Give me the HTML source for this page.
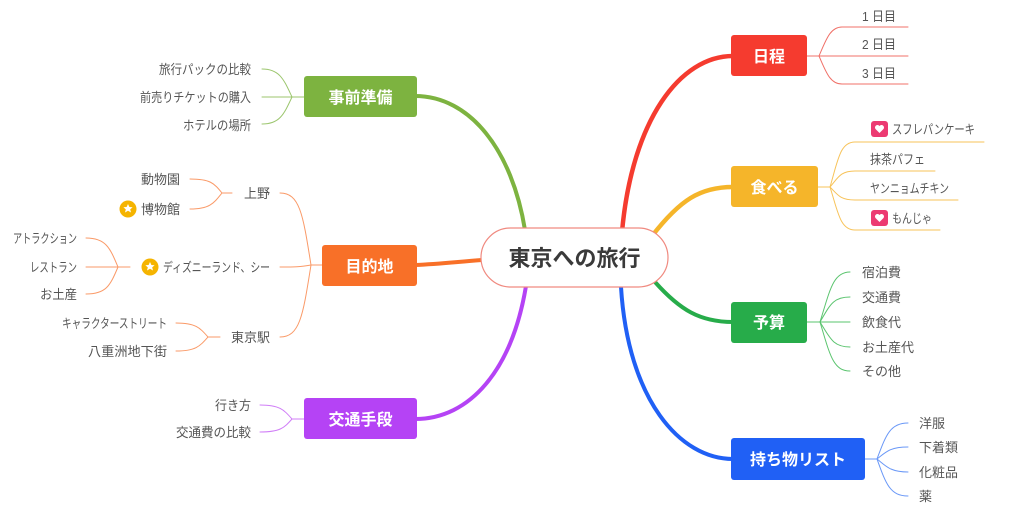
<!DOCTYPE html>
<html><head><meta charset="utf-8"><style>
html,body{margin:0;padding:0;background:#fff;}
svg{display:block;}
text{font-family:"Liberation Sans","Noto Sans CJK JP",sans-serif;}
.l{font-size:13px;fill:#555;}
.b{font-size:16px;font-weight:bold;fill:#fff;}
</style></head><body>
<svg width="1024" height="517" viewBox="0 0 1024 517" xmlns="http://www.w3.org/2000/svg">
<g fill="none" stroke-linecap="round">
<path d="M622,232 C632,120 680,56 733,56" stroke="#f53b2f" stroke-width="4.5"/>
<path d="M652,236 C680,200 700,187 733,187" stroke="#f5b52a" stroke-width="4.5"/>
<path d="M655,282 C680,310 700,322 733,322" stroke="#27ac4a" stroke-width="4"/>
<path d="M621,287 C628,400 680,459 733,459" stroke="#2060f5" stroke-width="4"/>
<path d="M525,230 C512,150 470,96 415,96" stroke="#7db340" stroke-width="4"/>
<path d="M482,260 C455,262 440,264 415,265" stroke="#f87028" stroke-width="4"/>
<path d="M526,286 C512,370 470,419 415,419" stroke="#b543f5" stroke-width="4"/>

<g stroke="#f07068" stroke-width="1">
<path d="M807,56 H819"/>
<path d="M819,56 C826,40 830,27 842,27 H908"/>
<path d="M819,56 H908"/>
<path d="M819,56 C826,72 830,84 842,84 H908"/>
</g>
<g stroke="#f7c35a" stroke-width="1">
<path d="M818,187 H830"/>
<path d="M830,187 C838,160 840,142 855,142 H984"/>
<path d="M830,187 C838,178 840,171 855,171 H935"/>
<path d="M830,187 C838,195 840,200 855,200 H958"/>
<path d="M830,187 C838,212 840,230 855,230 H940"/>
</g>
<g stroke="#5ac46e" stroke-width="1">
<path d="M807,322 H820"/>
<path d="M820,322 C830,290 833,272 850,272"/>
<path d="M820,322 C830,305 833,297 850,297"/>
<path d="M820,322 H850"/>
<path d="M820,322 C830,338 833,347 850,347"/>
<path d="M820,322 C830,355 833,371 850,371"/>
</g>
<g stroke="#6a98f7" stroke-width="1">
<path d="M865,459 H877"/>
<path d="M877,459 C886,435 890,423 908,423"/>
<path d="M877,459 C886,452 890,447 908,447"/>
<path d="M877,459 C886,466 890,472 908,472"/>
<path d="M877,459 C886,484 890,496 908,496"/>
</g>
<g stroke="#9cc66e" stroke-width="1">
<path d="M304,97 H292"/>
<path d="M292,97 C284,80 280,69 262,69"/>
<path d="M292,97 H262"/>
<path d="M292,97 C284,114 280,124 262,124"/>
</g>
<g stroke="#fa9a68" stroke-width="1">
<path d="M322,265 H311"/>
<path d="M311,265 C303,215 300,193 280,193"/>
<path d="M311,265 C300,267 295,267 280,267"/>
<path d="M311,265 C303,315 300,337 280,337"/>
<path d="M232,193 H222"/>
<path d="M222,193 C214,183 210,179 190,179"/>
<path d="M222,193 C214,203 210,209 190,209"/>
<path d="M130,267 H118"/>
<path d="M118,267 C110,248 106,238 86,238"/>
<path d="M118,267 H86"/>
<path d="M118,267 C110,286 106,294 86,294"/>
<path d="M220,337 H208"/>
<path d="M208,337 C200,328 196,323 176,323"/>
<path d="M208,337 C200,346 196,351 176,351"/>
</g>
<g stroke="#d07ef7" stroke-width="1">
<path d="M304,419 H292"/>
<path d="M292,419 C284,410 280,405 260,405"/>
<path d="M292,419 C284,428 280,432 260,432"/>
</g>
</g>

<rect x="481" y="228" width="187" height="59" rx="29.5" fill="#fff" stroke="#f08a80" stroke-width="1.2"/>
<text x="574.5" y="266" font-size="22" font-weight="bold" fill="#3a3a3a" text-anchor="middle">東京への旅行</text>

<rect x="731" y="35" width="76" height="41" rx="3" fill="#f53b2f"/>
<text class="b" x="769" y="62" text-anchor="middle">日程</text>
<rect x="731" y="166" width="87" height="41" rx="3" fill="#f5b52a"/>
<text class="b" x="774.5" y="193" text-anchor="middle">食べる</text>
<rect x="731" y="302" width="76" height="41" rx="3" fill="#27ac4a"/>
<text class="b" x="769" y="328" text-anchor="middle">予算</text>
<rect x="731" y="438" width="134" height="42" rx="3" fill="#2060f5"/>
<text class="b" x="798" y="465" text-anchor="middle">持ち物リスト</text>
<rect x="304" y="76" width="113" height="41" rx="3" fill="#7db340"/>
<text class="b" x="360.5" y="103" text-anchor="middle">事前準備</text>
<rect x="322" y="245" width="95" height="41" rx="3" fill="#f87028"/>
<text class="b" x="369.5" y="272" text-anchor="middle">目的地</text>
<rect x="304" y="398" width="113" height="41" rx="3" fill="#b543f5"/>
<text class="b" x="360.5" y="425" text-anchor="middle">交通手段</text>

<text class="l" x="862" y="21" textLength="34" lengthAdjust="spacingAndGlyphs">1 日目</text>
<text class="l" x="862" y="49" textLength="34" lengthAdjust="spacingAndGlyphs">2 日目</text>
<text class="l" x="862" y="78" textLength="34" lengthAdjust="spacingAndGlyphs">3 日目</text>

<rect x="871" y="121" width="17" height="16" rx="3" fill="#ec3a72"/>
<path d="M879.5,133 l-4,-4 a2.2,2.2 0 0 1 4,-3 a2.2,2.2 0 0 1 4,3 z" fill="#fff"/>
<text class="l" x="892" y="134" textLength="83" lengthAdjust="spacingAndGlyphs">スフレパンケーキ</text>
<text class="l" x="870" y="164" textLength="55" lengthAdjust="spacingAndGlyphs">抹茶パフェ</text>
<text class="l" x="870" y="193" textLength="79" lengthAdjust="spacingAndGlyphs">ヤンニョムチキン</text>
<rect x="871" y="210" width="17" height="16" rx="3" fill="#ec3a72"/>
<path d="M879.5,222 l-4,-4 a2.2,2.2 0 0 1 4,-3 a2.2,2.2 0 0 1 4,3 z" fill="#fff"/>
<text class="l" x="892" y="223" textLength="40" lengthAdjust="spacingAndGlyphs">もんじゃ</text>

<text class="l" x="862" y="277">宿泊費</text>
<text class="l" x="862" y="302">交通費</text>
<text class="l" x="862" y="327">飲食代</text>
<text class="l" x="862" y="352">お土産代</text>
<text class="l" x="862" y="376">その他</text>

<text class="l" x="919" y="428">洋服</text>
<text class="l" x="919" y="452">下着類</text>
<text class="l" x="919" y="477">化粧品</text>
<text class="l" x="919" y="501">薬</text>

<text class="l" x="159" y="74" textLength="92" lengthAdjust="spacingAndGlyphs">旅行パックの比較</text>
<text class="l" x="140" y="102" textLength="111" lengthAdjust="spacingAndGlyphs">前売りチケットの購入</text>
<text class="l" x="183" y="130" textLength="68" lengthAdjust="spacingAndGlyphs">ホテルの場所</text>

<text class="l" x="244" y="198">上野</text>
<text class="l" x="163" y="272" textLength="107" lengthAdjust="spacingAndGlyphs">ディズニーランド、シー</text>
<text class="l" x="231" y="342">東京駅</text>
<text class="l" x="141" y="184">動物園</text>
<text class="l" x="141" y="214">博物館</text>
<text class="l" x="13" y="243" textLength="64" lengthAdjust="spacingAndGlyphs">アトラクション</text>
<text class="l" x="30" y="272" textLength="47" lengthAdjust="spacingAndGlyphs">レストラン</text>
<text class="l" x="40" y="299" textLength="37" lengthAdjust="spacingAndGlyphs">お土産</text>
<text class="l" x="62" y="328" textLength="105" lengthAdjust="spacingAndGlyphs">キャラクターストリート</text>
<text class="l" x="88" y="356" textLength="79" lengthAdjust="spacingAndGlyphs">八重洲地下街</text>

<text class="l" x="215" y="410" textLength="36" lengthAdjust="spacingAndGlyphs">行き方</text>
<text class="l" x="176" y="437" textLength="75" lengthAdjust="spacingAndGlyphs">交通費の比較</text>

<circle cx="128" cy="209" r="8.5" fill="#f5b400"/>
<path d="M128,204 l1.4,3 3.2,.3 -2.4,2.1 .8,3.1 -3,-1.7 -3,1.7 .8,-3.1 -2.4,-2.1 3.2,-.3 z" fill="#fff"/>
<circle cx="150" cy="267" r="8.5" fill="#f5b400"/>
<path d="M150,262 l1.4,3 3.2,.3 -2.4,2.1 .8,3.1 -3,-1.7 -3,1.7 .8,-3.1 -2.4,-2.1 3.2,-.3 z" fill="#fff"/>
</svg>
</body></html>
